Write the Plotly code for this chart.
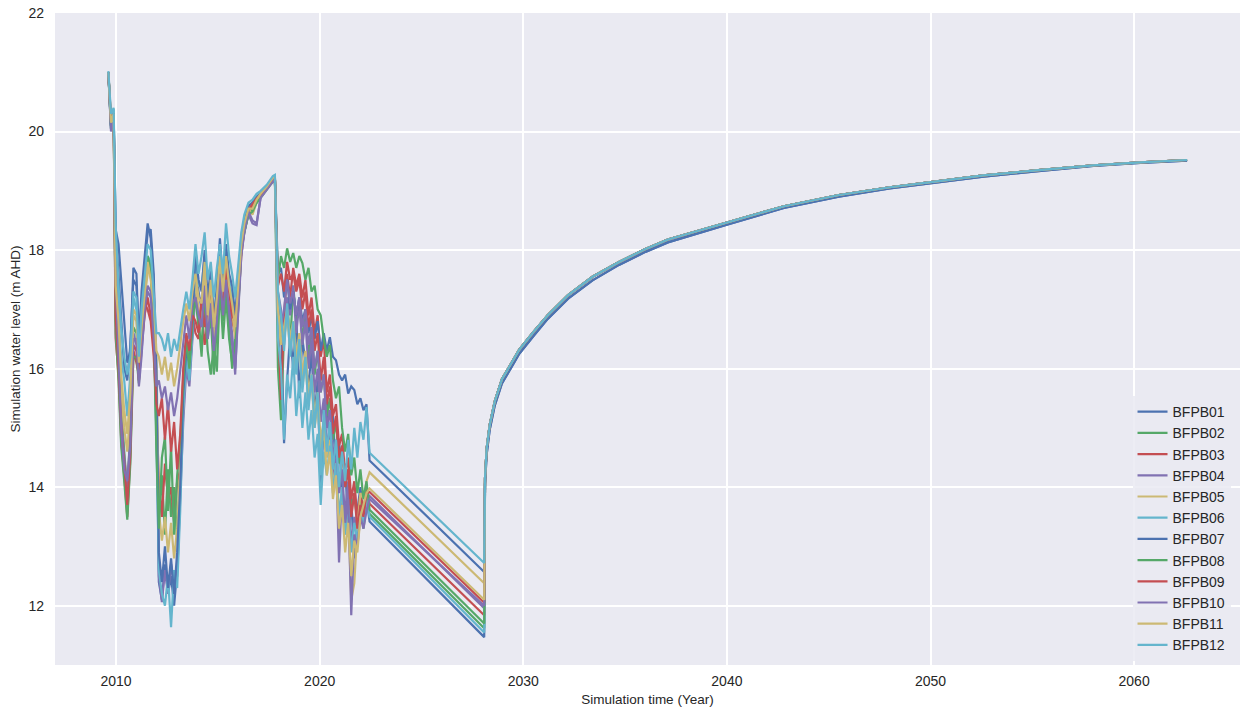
import plotly.graph_objects as go

# ---------------- data ----------------
NAMES = ["BFPB01", "BFPB02", "BFPB03", "BFPB04", "BFPB05", "BFPB06",
         "BFPB07", "BFPB08", "BFPB09", "BFPB10", "BFPB11", "BFPB12"]
COLORS = ["#4C72B0", "#55A868", "#C44E52", "#8172B2", "#CCB974", "#64B5CD",
          "#4C72B0", "#55A868", "#C44E52", "#8172B2", "#CCB974", "#64B5CD"]

# historical / calibration period times (decimal year)
T_HIST = [2009.62, 2009.75, 2009.88, 2009.98,
          2010.12, 2010.25, 2010.40, 2010.55, 2010.70, 2010.85,
          2011.00, 2011.12, 2011.25, 2011.40, 2011.55, 2011.70, 2011.85, 2011.98,
          2012.10, 2012.25, 2012.40, 2012.55, 2012.70, 2012.85, 2013.00, 2013.15,
          2013.30, 2013.45, 2013.60, 2013.75,
          2013.90, 2014.05, 2014.20, 2014.35, 2014.50, 2014.65, 2014.80, 2014.95,
          2015.10, 2015.25, 2015.40, 2015.55, 2015.70, 2015.85, 2016.00, 2016.15,
          2016.30, 2016.50, 2016.70, 2016.90, 2017.10, 2017.40, 2017.70, 2017.80,
          2017.95, 2018.10, 2018.25, 2018.40, 2018.55, 2018.70, 2018.85, 2019.00,
          2019.15, 2019.30, 2019.45, 2019.60, 2019.75, 2019.90, 2020.05, 2020.20,
          2020.35, 2020.50, 2020.65, 2020.80, 2020.95, 2021.10, 2021.25, 2021.40,
          2021.55, 2021.70, 2021.85, 2022.00, 2022.15, 2022.30, 2022.45]
T_DECLINE_END = 2028.08
T_REC = [2028.12, 2028.2, 2028.35, 2028.6, 2028.95, 2029.4, 2029.8, 2030.5, 2031.2,
         2032.2, 2033.4, 2034.7, 2036.0, 2037.1, 2038.6, 2040.0, 2042.8, 2045.5,
         2048.0, 2050.3, 2052.6, 2055.3, 2058.0, 2060.3, 2062.6]
REC_A = [14.15, 14.65, 15.05, 15.45, 15.82, 16.08, 16.32, 16.62, 16.9, 17.24, 17.55,
         17.8, 18.02, 18.18, 18.33, 18.47, 18.74, 18.93, 19.06, 19.16, 19.26, 19.35,
         19.43, 19.48, 19.52]
REC_B = [14.05, 14.55, 14.97, 15.38, 15.75, 16.01, 16.25, 16.55, 16.84, 17.18, 17.49,
         17.75, 17.97, 18.13, 18.29, 18.43, 18.71, 18.9, 19.04, 19.14, 19.24, 19.33,
         19.42, 19.47, 19.51]

BFPB01 = [21.0, 20.1, 20.3, 18.3,
          17.6, 16.8, 16.0, 15.8, 16.4, 17.5,
          17.4, 16.6, 17.1, 17.7, 18.3, 18.35, 17.6, 15.5,
          12.4, 12.1, 12.7, 12.2, 12.5, 12.0, 12.6, 13.9, 15.4, 16.2, 15.9, 16.6,
          17.8, 17.3, 17.0, 17.7, 16.9, 17.4, 16.5, 17.2, 17.9, 17.2, 17.9, 17.3, 17.1, 16.7, 17.4, 18.1,
          18.4, 18.7, 18.75, 18.85, 18.9, 19.05, 19.18, 19.2,
          17.2, 16.8, 14.74, 15.8, 16.6, 16.0, 16.9, 15.5, 16.5, 16.1, 15.7, 16.3, 15.2, 15.8, 13.95, 15.1,
          15.5, 14.6, 15.2, 14.2, 14.8, 13.9, 14.4, 13.3, 13.8, 12.8, 13.6, 14.0, 13.5, 13.8, 13.42]
BFPB02 = [21.0, 20.1, 20.3, 16.8,
          16.1, 15.3, 14.6, 13.9, 15.0, 16.7,
          16.6, 16.0, 16.9, 17.5, 17.8, 17.6, 16.8, 14.9,
          13.4, 14.2, 13.2, 14.3, 13.5, 14.0, 13.1, 14.5, 15.7, 16.4, 16.1, 16.7,
          17.4, 16.8, 16.2, 17.3, 16.5, 16.9, 15.9, 16.7, 17.6, 16.8, 17.4, 16.7, 16.0, 16.5, 17.2, 18.1,
          18.3, 18.6, 18.7, 18.8, 18.9, 19.03, 19.18, 19.2,
          16.0, 15.13, 16.6, 17.2, 16.4, 17.4, 16.8, 17.1, 16.5, 16.9, 16.2, 16.7, 15.9, 16.3, 15.6, 15.9,
          15.2, 15.5, 14.8, 15.1, 14.4, 14.7, 14.0, 14.3, 13.6, 13.9, 13.4, 13.8, 13.3, 13.7, 13.55]
BFPB03 = [21.0, 20.15, 20.3, 16.5,
          15.9, 14.8, 14.2, 13.5, 14.5, 16.3,
          16.1, 15.9, 16.5, 17.1, 17.0, 16.8, 16.2, 15.3,
          14.1, 13.5, 14.4, 13.8, 14.0, 13.4, 14.1, 14.28, 15.9, 16.5, 16.2, 16.9,
          16.6, 16.5, 17.0, 16.4, 16.8, 17.2, 16.6, 16.9, 17.3, 16.9, 17.5, 17.1, 16.8, 16.6, 17.1, 17.9,
          18.35, 18.65, 18.75, 18.85, 18.92, 19.04, 19.2, 19.21,
          16.8, 15.47, 16.9, 17.6, 17.2, 17.7, 17.4, 17.6, 17.2, 17.5, 16.9, 17.2, 16.6, 16.9, 16.2, 16.5,
          15.6, 15.9, 15.2, 15.4, 14.7, 14.9, 14.2, 14.5, 13.8, 14.1, 13.5, 13.9, 13.6, 14.0, 13.72]
BFPB04 = [21.0, 20.1, 20.3, 17.7,
          16.3, 15.2, 14.5, 14.0, 14.9, 16.6,
          16.4, 15.8, 16.3, 16.9, 17.3, 17.2, 16.6, 15.8,
          12.5, 12.06, 12.6, 12.2, 12.7, 12.3, 12.5, 13.8, 15.1, 16.0, 15.7, 16.5,
          17.3, 16.8, 16.9, 17.5, 16.7, 17.2, 16.6, 16.9, 17.7, 17.0, 17.6, 17.0, 16.6, 15.9, 17.1, 18.0,
          18.3, 18.6, 18.45, 18.42, 18.9, 19.03, 19.18, 19.2,
          17.3, 17.0, 16.4, 17.2, 16.9, 17.4, 16.6, 17.1, 16.4, 16.8, 16.0, 16.5, 15.6, 16.0, 15.1, 15.5,
          14.7, 15.0, 14.2, 14.5, 12.73, 14.0, 13.6, 14.1, 13.0, 13.5, 13.2, 13.6, 13.4, 13.7, 13.85]
BFPB05 = [21.0, 20.2, 20.3, 17.3,
          16.6, 15.6, 15.0, 14.6, 15.3, 16.9,
          16.8, 15.9, 16.6, 17.2, 17.6, 17.7, 16.9, 16.2,
          13.6, 13.1, 13.5, 12.9, 13.4, 12.8, 13.3, 14.3, 15.5, 16.4, 16.0, 16.8,
          17.5, 17.0, 16.8, 17.6, 16.6, 17.3, 16.4, 17.0, 17.8, 17.1, 17.8, 17.2, 17.0, 16.5, 17.3, 18.0,
          18.4, 18.7, 18.6, 18.8, 18.9, 19.05, 19.2, 19.22,
          16.9, 16.4, 16.7, 17.0, 16.5, 16.8, 16.2, 16.6, 15.9, 16.3, 15.6, 15.9, 15.2, 15.6, 14.8, 15.1,
          14.5, 14.8, 14.0, 14.4, 13.6, 13.9, 13.2, 13.6, 12.1, 12.38, 13.3, 13.9, 13.8, 14.1, 14.25]
BFPB06 = [21.0, 20.25, 20.38, 17.9,
          16.9, 16.2, 15.8, 15.2, 15.9, 17.2,
          17.0, 16.0, 16.8, 17.4, 17.9, 17.8, 17.0, 14.8,
          12.6, 12.2, 12.0, 12.5, 11.64, 12.6, 12.3, 13.6, 15.3, 16.2, 15.8, 16.6,
          17.9, 17.4, 17.4, 17.9, 17.0, 17.6, 16.9, 17.3, 18.0, 17.3, 18.0, 17.5, 17.2, 16.8, 17.5, 18.2,
          18.5, 18.7, 18.8, 18.9, 18.97, 19.08, 19.22, 19.25,
          16.5, 16.0, 14.8, 15.9, 15.5, 16.2, 15.2, 15.8, 15.0, 15.6, 14.8, 15.3, 14.5, 14.9, 13.7, 14.6,
          14.2, 14.7, 13.9, 14.4, 13.5, 14.0, 13.2, 13.7, 12.9, 13.4, 13.1, 13.6, 13.4, 13.8, 13.5]
BFPB07 = [21.0, 20.05, 20.3, 18.35,
          18.1, 17.5, 16.9, 16.1, 16.3, 17.7,
          17.6, 16.4, 17.3, 17.9, 18.45, 18.2, 17.4, 16.0,
          12.9, 12.4, 13.0, 12.3, 12.8, 12.2, 12.9, 14.0, 15.6, 16.3, 16.1, 16.7,
          18.0, 17.5, 17.3, 18.0, 17.2, 17.7, 16.8, 17.4, 18.2, 17.4, 18.1, 17.6, 17.4, 16.9, 17.6, 18.2,
          18.5, 18.75, 18.8, 18.9, 18.95, 19.05, 19.2, 19.22,
          17.6, 17.7, 17.2, 17.5, 17.0, 17.3, 16.9, 17.2, 16.8, 17.0, 16.6, 16.9, 16.5, 16.8, 16.3, 16.6,
          16.3, 16.53, 16.2, 16.14, 15.9, 15.8, 15.9, 15.58, 15.7, 15.64, 15.4, 15.5, 15.3, 15.4, 14.45]
BFPB08 = [21.0, 20.05, 20.3, 16.6,
          15.8, 14.7, 14.1, 13.45, 14.4, 16.2,
          16.2, 15.75, 16.6, 17.4, 17.9, 17.7, 16.7, 14.6,
          13.3, 14.5, 14.85, 13.6, 14.7, 13.2, 14.2, 14.8, 15.8, 16.5, 16.0, 16.8,
          17.2, 16.7, 16.4, 17.1, 16.3, 15.9, 16.4, 15.95, 17.4, 16.5, 17.2, 16.5, 16.1, 16.4, 17.0, 18.0,
          18.3, 18.6, 18.65, 18.8, 18.88, 19.02, 19.17, 19.2,
          17.5, 17.9, 17.7, 18.03, 17.8, 17.95, 17.7, 17.9, 17.78, 17.5, 17.7, 17.3, 17.4, 17.0, 16.9, 16.5,
          16.2, 16.4, 15.8, 15.5, 15.7, 15.0, 14.6, 14.9, 14.2, 14.5, 13.9, 14.3, 13.8, 14.1, 13.62]
BFPB09 = [21.0, 20.2, 20.3, 16.9,
          16.0, 15.0, 14.4, 13.7, 14.6, 16.4,
          16.3, 15.8, 16.4, 16.9, 17.2, 16.9, 16.4, 15.4,
          15.2, 15.5, 14.8, 15.4, 14.6, 15.1, 14.3, 14.9, 16.0, 16.6, 16.3, 16.9,
          16.8, 16.6, 17.2, 16.7, 17.0, 17.4, 16.8, 17.1, 17.5, 17.0, 17.7, 17.3, 16.9, 16.8, 17.3, 18.0,
          18.4, 18.68, 18.78, 18.87, 18.93, 19.05, 19.2, 19.22,
          17.4, 17.6, 17.3, 17.8, 17.5, 17.6, 17.3, 17.5, 17.0, 17.3, 16.7, 17.0, 16.3, 16.6, 15.8, 16.2,
          15.4, 15.7, 14.9, 15.2, 14.5, 14.7, 14.0, 14.3, 13.5, 13.9, 13.3, 13.7, 13.5, 13.9, 13.92]
BFPB10 = [21.0, 20.0, 20.3, 17.5,
          16.2, 15.0, 14.3, 14.1, 14.7, 16.5,
          16.5, 15.7, 16.2, 17.0, 17.4, 17.3, 16.5, 15.7,
          15.8, 15.5, 15.7, 15.3, 15.6, 15.2, 15.5, 16.0, 16.5, 16.9, 16.5, 17.1,
          17.2, 16.9, 16.7, 17.4, 16.5, 17.1, 16.3, 16.8, 17.6, 16.9, 17.5, 16.9, 16.4, 16.0, 17.0, 17.9,
          18.3, 18.65, 18.5, 18.45, 18.88, 19.02, 19.17, 19.2,
          17.1, 16.7, 17.0, 17.5, 17.1, 17.3, 16.9, 17.2, 16.7, 17.0, 16.4, 16.7, 16.0, 16.3, 15.6, 15.9,
          15.0, 15.3, 14.5, 14.8, 13.9, 14.3, 13.4, 13.8, 11.84, 13.2, 13.0, 13.5, 13.3, 13.6, 13.8]
BFPB11 = [21.0, 20.15, 20.3, 17.4,
          16.8, 15.9, 15.3, 14.9, 15.6, 17.0,
          16.9, 16.1, 16.7, 17.3, 17.8, 17.5, 17.1, 16.3,
          16.2, 15.9, 16.2, 15.8, 16.1, 15.7, 16.0, 16.4, 16.8, 17.1, 16.8, 17.3,
          17.6, 17.2, 17.1, 17.8, 16.9, 17.5, 16.7, 17.2, 17.9, 17.3, 17.9, 17.4, 17.1, 16.7, 17.4, 18.1,
          18.45, 18.7, 18.7, 18.85, 18.95, 19.07, 19.22, 19.24,
          17.0, 16.6, 16.5, 16.9, 16.3, 16.7, 16.0, 16.4, 15.7, 16.1, 15.4, 15.8, 15.0, 15.4, 14.6, 15.0,
          14.2, 14.6, 13.8, 14.2, 13.3, 13.7, 12.9, 13.4, 12.5, 13.1, 12.9, 13.5, 13.7, 13.9, 13.98]
BFPB12 = [21.02, 20.3, 20.4, 18.4,
          17.4, 16.7, 16.2, 15.9, 16.2, 17.3,
          17.2, 16.2, 17.0, 17.6, 18.1, 18.0, 17.3, 16.6,
          16.6, 16.5, 16.3, 16.6, 16.2, 16.5, 16.3, 16.7, 17.0, 17.3, 17.0, 17.5,
          18.1, 17.6, 17.9, 18.3, 17.5, 17.8, 17.2, 17.7, 18.1, 17.6, 18.45, 17.9, 17.6, 17.2, 17.8, 18.3,
          18.6, 18.8, 18.85, 18.95, 19.0, 19.1, 19.25, 19.27,
          17.3, 16.9, 16.3, 17.1, 16.2, 16.8, 15.9, 16.5, 15.6, 16.2, 15.3, 15.9, 15.0, 15.6, 14.2, 15.3,
          14.6, 15.1, 14.3, 14.8, 14.0, 14.6, 14.1, 14.8, 14.3, 15.0, 14.5, 15.1, 14.8, 15.35, 14.58]

HIST = [BFPB01, BFPB02, BFPB03, BFPB04, BFPB05, BFPB06,
        BFPB07, BFPB08, BFPB09, BFPB10, BFPB11, BFPB12]
DECLINE_END = [11.47, 11.62, 11.84, 11.96, 12.38, 11.55,
               12.57, 11.70, 12.05, 12.00, 12.10, 12.72]
RECOVERY = [REC_B, REC_A, REC_A, REC_A, REC_A, REC_A,
            REC_B, REC_A, REC_A, REC_A, REC_A, REC_A]

X_TICKS = [2010, 2020, 2030, 2040, 2050, 2060]
Y_TICKS = [12, 14, 16, 18, 20, 22]

# ---------------- figure ----------------
FONT = "Liberation Sans, Arial, sans-serif"
TXT = "#262626"

fig = go.Figure()
x_all = T_HIST + [T_DECLINE_END] + T_REC
for name, color, hist, dend, rec in zip(NAMES, COLORS, HIST, DECLINE_END, RECOVERY):
    fig.add_trace(go.Scatter(
        x=x_all, y=hist + [dend] + rec, mode="lines", name=name,
        line=dict(color=color, width=2.2),
    ))

fig.update_layout(
    width=1243, height=711,
    margin=dict(l=55, r=3, t=13, b=46),
    paper_bgcolor="white",
    plot_bgcolor="#EAEAF2",
    font=dict(family=FONT, size=14, color=TXT),
    showlegend=True,
    legend=dict(
        x=0.992, xanchor="right", y=0.006, yanchor="bottom",
        bgcolor="rgba(234,234,242,0.85)",
        font=dict(family=FONT, size=14, color=TXT),
        itemwidth=30,
    ),
)
fig.update_xaxes(
    range=[2007.0, 2065.2], tickvals=X_TICKS, ticktext=[str(v) for v in X_TICKS],
    showgrid=True, gridcolor="white", gridwidth=1.5, zeroline=False,
    showline=False, ticks="", ticklabelstandoff=6,
    tickfont=dict(size=14, color=TXT),
    title=dict(text="Simulation time (Year)", font=dict(size=13.5, color=TXT), standoff=6),
)
fig.update_yaxes(
    range=[11.0, 22.0], tickvals=Y_TICKS, ticktext=[str(v) for v in Y_TICKS],
    showgrid=True, gridcolor="white", gridwidth=1.5, zeroline=False,
    showline=False, ticks="", ticklabelstandoff=10,
    tickfont=dict(size=14, color=TXT),
    title=dict(text="Simulation water level (m AHD)", font=dict(size=13.5, color=TXT), standoff=4),
)

fig.write_html(
    "out.html",
    config={"displayModeBar": False},
    post_script="document.body.style.margin='0';document.body.style.overflow='hidden';",
)
